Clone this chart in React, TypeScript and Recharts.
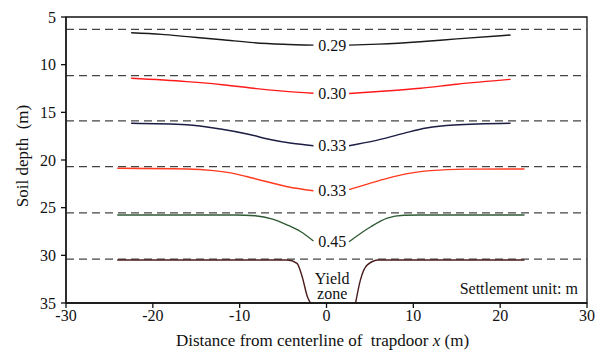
import { LineChart, Line, XAxis, YAxis, ReferenceLine, ReferenceDot, ReferenceArea } from "recharts";

const xTicks = [-30, -20, -10, 0, 10, 20, 30];
const depthTicks = [5, 10, 15, 20, 25, 30, 35];
// depth of each dashed layer line (m)
const layerDepths = [6.3, 11.15, 15.9, 20.7, 25.55, 30.4];

// settlement profiles, x = distance (m), d = depth (m); null = gap for the label
const curve029 = [
  { x: -22.5, d: 6.65 }, { x: -19, d: 6.82 }, { x: -16, d: 7.06 }, { x: -12, d: 7.38 },
  { x: -8.4, d: 7.69 }, { x: -5, d: 7.86 }, { x: -1.5, d: 7.95 }, { x: 0.6, d: null },
  { x: 2.6, d: 7.95 }, { x: 6, d: 7.84 }, { x: 10.8, d: 7.59 }, { x: 15, d: 7.3 }, { x: 21.2, d: 6.89 },
];
const curve030 = [
  { x: -22.5, d: 11.43 }, { x: -16.1, d: 11.78 }, { x: -12, d: 12.1 }, { x: -8.4, d: 12.48 },
  { x: -5, d: 12.77 }, { x: -1.5, d: 13.0 }, { x: 0.6, d: null }, { x: 2.6, d: 13.03 },
  { x: 6, d: 12.82 }, { x: 10.8, d: 12.48 }, { x: 15, d: 12.05 }, { x: 21.2, d: 11.54 },
];
const curve033a = [
  { x: -22.5, d: 16.15 }, { x: -16.1, d: 16.3 }, { x: -12.2, d: 16.75 }, { x: -9, d: 17.3 },
  { x: -6.5, d: 17.85 }, { x: -4, d: 18.25 }, { x: -1.5, d: 18.5 }, { x: 0.6, d: null },
  { x: 2.6, d: 18.5 }, { x: 5.5, d: 18.0 }, { x: 8.9, d: 17.2 }, { x: 11.5, d: 16.65 },
  { x: 14.7, d: 16.33 }, { x: 21.2, d: 16.15 },
];
const curve033b = [
  { x: -24.1, d: 20.87 }, { x: -16.1, d: 20.94 }, { x: -13, d: 21.12 }, { x: -10.5, d: 21.45 },
  { x: -8.4, d: 21.92 }, { x: -4.5, d: 22.8 }, { x: -1.5, d: 23.22 }, { x: 0.6, d: null },
  { x: 2.6, d: 23.1 }, { x: 4.8, d: 22.5 }, { x: 7, d: 21.92 }, { x: 9.5, d: 21.4 },
  { x: 12, d: 21.12 }, { x: 16, d: 20.96 }, { x: 22.8, d: 20.94 },
];
const curve045 = [
  { x: -24.1, d: 25.77 }, { x: -10.5, d: 25.77 }, { x: -8.2, d: 25.85 }, { x: -6.2, d: 26.2 },
  { x: -4.5, d: 26.82 }, { x: -3, d: 27.5 }, { x: -1.5, d: 28.5 }, { x: 0.6, d: null },
  { x: 2.6, d: 28.57 }, { x: 5.1, d: 27.0 }, { x: 7, d: 26.1 }, { x: 8.9, d: 25.8 },
  { x: 10.8, d: 25.77 }, { x: 22.8, d: 25.77 },
];
const curveYield = [
  { x: -24.1, d: 30.49 }, { x: -4.5, d: 30.49 }, { x: -3.4, d: 30.84 }, { x: -2.8, d: 32.24 },
  { x: -2.2, d: 34.34 }, { x: -1.85, d: 35 }, { x: 0.6, d: null }, { x: 3.35, d: 35 },
  { x: 3.9, d: 32.6 }, { x: 4.7, d: 31.0 }, { x: 6, d: 30.49 }, { x: 22.8, d: 30.49 },
];

const curves = [curve029, curve030, curve033a, curve033b, curve045, curveYield];
const curveColors = ["#1a1a1a", "#ff1a1a", "#1c1c44", "#ff3a1f", "#2e5a34", "#4a1c1c"];

const settlementLabels = ["0.29", "0.30", "0.33", "0.33", "0.45"];
const labelDepths = [7.95, 13.0, 18.5, 23.2, 28.6];
const labelX = 0.65;

const font = "Liberation Serif";

const textShape = (text: string, anchor: string = "middle") => (props: any) => (
  <text x={props.cx} y={props.cy} textAnchor={anchor} dominantBaseline="central"
    style={{ fontFamily: font }} fontSize={16} fill="#111">{text}</text>
);

const XTitle = (props: any) => {
  const { x, y, width } = props.viewBox;
  return (
    <text x={x + width / 2 - 4} y={y + 43} textAnchor="middle" style={{ fontFamily: font, whiteSpace: "pre" }}
      fontSize={17} fill="#111">
      {"Distance from centerline of  trapdoor "}<tspan fontStyle="italic">x</tspan>{" (m)"}
    </text>
  );
};

const YTitle = (props: any) => {
  const { x, y, height } = props.viewBox;
  const cx = x + 22;
  const cy = y + height / 2 - 4;
  return (
    <text x={cx} y={cy} transform={`rotate(-90 ${cx} ${cy})`} textAnchor="middle" dominantBaseline="central"
      style={{ fontFamily: font, whiteSpace: "pre" }} fontSize={17} fill="#111">
      {"Soil depth  (m)"}
    </text>
  );
};

const tickStyle = { fontFamily: font, fontSize: 16, fill: "#111" };

export default function App() {
  return (
    <div style={{ position: "absolute", left: 0, top: 0, background: "#fff", fontFamily: font }}>
      <LineChart width={600} height={356} margin={{ top: 17, right: 13, bottom: 0, left: 0 }}>
        <XAxis dataKey="x" type="number" domain={[-30, 30]} ticks={xTicks} height={53}
          tick={tickStyle} tickSize={5} tickMargin={2} stroke="#111" strokeWidth={1.3}
          allowDuplicatedCategory={false} label={{ content: XTitle }} />
        <YAxis type="number" domain={[5, 35]} ticks={depthTicks} reversed width={66}
          allowDataOverflow tick={tickStyle} tickSize={5} tickMargin={5} stroke="#111" strokeWidth={1.3}
          label={{ content: YTitle }} />
        <ReferenceArea x1={-30} x2={30} y1={5} y2={35} fill="none" stroke="#111" strokeWidth={1.3} />
        {layerDepths.map((d, i) => (
          <ReferenceLine key={i} y={d} stroke="#444" strokeWidth={1.2} strokeDasharray="8 5" />
        ))}
        {curves.map((c, i) => (
          <Line key={i} data={c} dataKey="d" type="monotone" stroke={curveColors[i]} strokeWidth={1.4}
            dot={false} activeDot={false} isAnimationActive={false} connectNulls={false} />
        ))}
        {settlementLabels.map((t, i) => (
          <ReferenceDot key={i} x={labelX} y={labelDepths[i]} r={0} shape={textShape(t)} />
        ))}
        <ReferenceDot x={labelX} y={32.4} r={0} shape={textShape("Yield")} />
        <ReferenceDot x={labelX} y={34.05} r={0} shape={textShape("zone")} />
        <ReferenceDot x={28.95} y={33.45} r={0} shape={textShape("Settlement unit: m", "end")} />
      </LineChart>
    </div>
  );
}
